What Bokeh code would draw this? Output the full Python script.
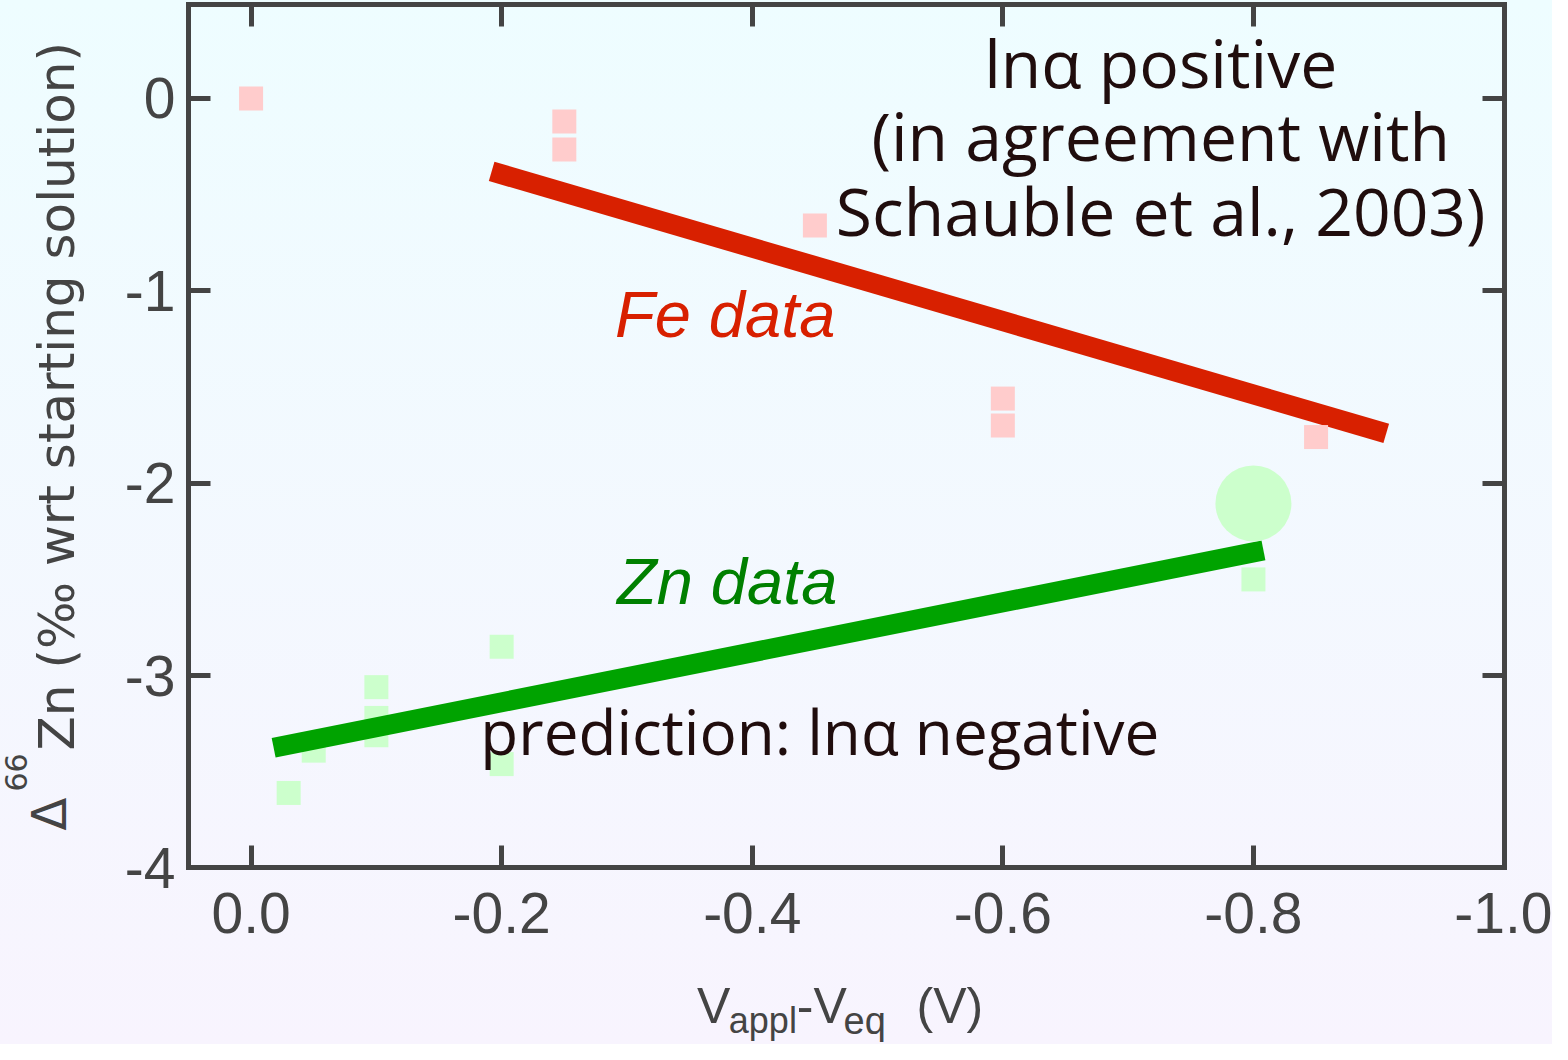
import math
from bokeh.plotting import figure
from bokeh.models import Range1d, LinearAxis, FixedTicker, Label
from bokeh.embed import file_html
from bokeh.resources import INLINE

# ---- data ----
fe_x = [0.0, -0.25, -0.25, -0.45, -0.60, -0.60, -0.85]
fe_y = [0.0, -0.12, -0.265, -0.66, -1.56, -1.70, -1.76]

zn_x = [-0.03, -0.05, -0.10, -0.10, -0.10, -0.20, -0.20, -0.80]
zn_y = [-3.61, -3.39, -3.06, -3.22, -3.31, -2.85, -3.46, -2.50]

zn_big_x = [-0.80]
zn_big_y = [-2.105]

fe_fit_x = [-0.192, -0.906]
fe_fit_y = [-0.379, -1.741]
zn_fit_x = [-0.018, -0.808]
zn_fit_y = [-3.375, -2.349]

x_ticks = [0.0, -0.2, -0.4, -0.6, -0.8, -1.0]
x_tick_labels = ["0.0", "-0.2", "-0.4", "-0.6", "-0.8", "-1.0"]
y_ticks = [0, -1, -2, -3, -4]
y_tick_labels = ["0", "-1", "-2", "-3", "-4"]

# axis box (data limits of the drawn frame)
x_lo, x_hi = 0.05, -1.0
y_lo, y_hi = -4.0, 0.49

AX = "#444444"
TXT = "#200D0D"

# The plotting frame spans the whole canvas; the visible box is drawn by
# four axes fixed at the data limits above.
p = figure(width=1552, height=1044,
           x_range=Range1d(0.2, -1.0387), y_range=Range1d(-4.9175, 0.5092),
           x_axis_location=None, y_axis_location=None,
           output_backend="svg", toolbar_location=None, min_border=0)

p.background_fill_alpha = 0
p.border_fill_alpha = 0
p.outline_line_color = None
p.styles = {"background": "linear-gradient(to bottom, #EEFDFF, #F8F4FE)"}
p.grid.visible = False

def make_axis(ticks, labels, loc, bounds, show, standoff):
    ax = LinearAxis(ticker=FixedTicker(ticks=ticks), fixed_location=loc, bounds=bounds)
    ax.major_label_overrides = {t: s for t, s in zip(ticks, labels)}
    ax.axis_line_color = AX
    ax.axis_line_width = 5
    ax.axis_line_cap = "square"
    ax.major_tick_line_color = AX
    ax.major_tick_line_width = 5
    ax.major_tick_in = 22
    ax.major_tick_out = 0
    ax.minor_tick_line_color = None
    ax.major_label_text_font = "Liberation Sans"
    ax.major_label_text_font_size = "57px" if show else "0px"
    ax.major_label_text_color = AX if show else None
    ax.major_label_standoff = standoff
    return ax

xb = (min(x_lo, x_hi), max(x_lo, x_hi))
yb = (y_lo, y_hi)
p.add_layout(make_axis(x_ticks, x_tick_labels, y_lo, xb, True, 25), "below")
p.add_layout(make_axis(y_ticks, y_tick_labels, x_lo, yb, True, 13), "left")
p.add_layout(make_axis(x_ticks, x_tick_labels, y_hi, xb, False, 0), "above")
p.add_layout(make_axis(y_ticks, y_tick_labels, x_hi, yb, False, 0), "right")

# ---- glyphs ----
p.scatter(zn_x, zn_y, marker="square", size=24, fill_color="#CCFFCC", line_color=None)
p.line(zn_fit_x, zn_fit_y, line_width=20, line_color="#00A300", line_cap="butt")
p.line(fe_fit_x, fe_fit_y, line_width=20, line_color="#D82000", line_cap="butt")
p.scatter(fe_x, fe_y, marker="square", size=24, fill_color="#FFCCCC", line_color=None)
p.scatter(zn_big_x, zn_big_y, marker="circle", size=76, fill_color="#CCFFCC", line_color=None)

# ---- annotations ----
def lab(x, y, text, font, size, color, align="left", style="normal", angle=0.0):
    p.add_layout(Label(x=x, y=y, text=text, text_font=font, text_font_size=size,
                       text_color=color, text_align=align, text_baseline="middle",
                       text_font_style=style, angle=angle))

for t, yy in [("lnα positive", 0.190), ("(in agreement with", -0.189),
              ("Schauble et al., 2003)", -0.579)]:
    lab(-0.726, yy, t, "Open Sans", "66px", TXT, align="center")

lab(-0.2904, -1.125, "Fe data", "Liberation Sans", "65px", "#D82000", style="italic")
lab(-0.292, -2.512, "Zn data", "Liberation Sans", "65px", "#008000", style="italic")
lab(-0.183, -3.290, "prediction: lnα negative", "Open Sans", "62px", TXT)

# x-axis title with subscripts
lab(-0.3558, -4.718, "V", "Liberation Sans", "50px", AX)
lab(-0.3813, -4.795, "appl", "Liberation Sans", "36px", AX)
lab(-0.4355, -4.718, "-V", "Liberation Sans", "50px", AX)
lab(-0.4729, -4.795, "eq", "Liberation Sans", "38px", AX)
lab(-0.5311, -4.718, "(V)", "Liberation Sans", "50px", AX)

# y-axis title with superscript
ang = math.pi / 2
lab(0.1614, -3.805, "Δ", "DejaVu Sans", "48px", AX, angle=ang)
lab(0.1876, -3.603, "66", "DejaVu Sans", "30px", AX, angle=ang)
lab(0.1548, -3.389, "Zn (‰ wrt starting solution)", "DejaVu Sans", "50px", AX, angle=ang)

open("out.html", "w").write(file_html(p, INLINE))
